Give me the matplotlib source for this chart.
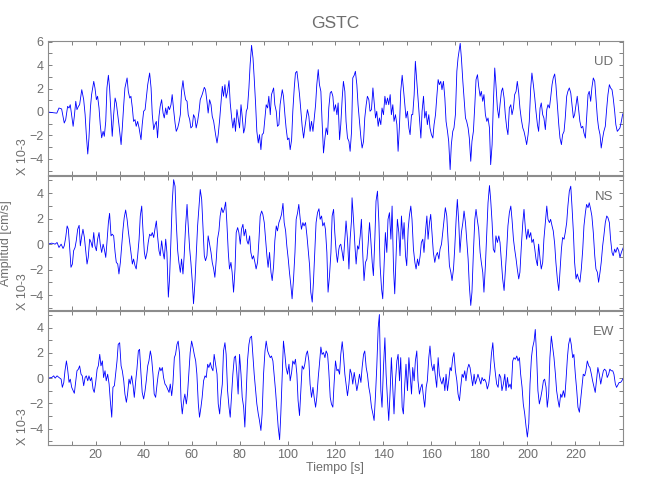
import numpy as np
import matplotlib
matplotlib.use('Agg')
import matplotlib.pyplot as plt

# registro GSTC, velocidad en cm/s (x 10^-3), lecturas (tiempo [s], amplitud)
ud_pts = [
    (0, 0), (3.8, -0.1), (4.7, 0.34), (5.8, 0.26), (6.9, -0.94), (7.5, -0.65), (8.3, 0.48), (8.9, 0.34),
    (9.4, 0.62), (10.6, -1.22), (11.1, -0.37), (11.7, 0.91), (12.2, 0.2), (12.8, 0.48), (13.3, 0.62),
    (14.2, 1.9), (15.0, 1.05), (15.6, -0.23), (16.1, -1.93), (16.7, -3.58), (17.2, -2.2), (17.8, 0.34),
    (18.3, 1.48), (19.2, 2.61), (19.7, 2.05), (20.3, 1.05), (20.8, 1.34), (21.4, 0.34), (21.9, -1.08),
    (22.5, -2.2), (23.1, -1.65), (23.6, -2.07), (24.2, -0.8), (24.7, 2.05), (25.3, 3.13), (25.8, 2.05),
    (26.4, -0.23), (26.9, -2.07), (27.5, -0.23), (28.1, 1.19), (28.6, 0.77), (29.2, -0.23), (29.7, -1.08),
    (30.6, -2.78), (31.1, -1.36), (31.7, 0.62), (32.2, 2.05), (33.1, 2.9), (33.6, 1.76), (34.2, 1.19),
    (34.7, 1.34), (35.3, 0.34), (35.8, -0.8), (36.4, -0.65), (36.9, -1.22), (37.5, -0.8), (38.1, -1.36),
    (38.9, -2.36), (39.4, -1.08), (40.0, 0.06), (40.6, 0.2), (41.1, 1.19), (41.7, 2.33), (42.5, 3.32),
    (43.1, 2.05), (43.6, -0.23), (44.2, -1.5), (44.7, -1.08), (45.3, -0.8), (45.8, -2.2), (46.4, -0.37),
    (46.9, 0.48), (47.5, 1.05), (48.1, -0.09), (48.6, -0.51), (49.2, 0.34), (49.7, -0.23), (50.3, 0.48),
    (50.8, 0.2), (51.4, 0.62), (51.9, 1.48), (52.5, 0.2), (53.1, -0.94), (53.6, -1.65), (54.2, -1.36),
    (54.7, -0.94), (55.3, -0.23), (55.8, 1.76), (56.4, 2.67), (56.9, 1.76), (57.5, 1.05), (58.1, 0.91),
    (58.6, -0.23), (59.2, -0.65), (59.7, -1.36), (60.3, -1.22), (60.8, -0.23), (61.4, -0.51), (61.9, -1.36),
    (62.5, -0.8), (63.1, 0.06), (63.6, 1.05), (64.4, 1.48), (65.3, 2.1), (65.8, 1.9), (66.4, 0.91),
    (66.9, -0.09), (67.5, 1.05), (68.1, 0.62), (68.6, -0.37), (69.2, -0.8), (70.0, -1.93), (70.6, -2.64),
    (71.1, -1.93), (71.7, -0.65), (72.2, 0.62), (72.8, 2.19), (73.3, 1.34), (73.9, 2.33), (74.4, 1.19),
    (75.0, 1.76), (75.6, 2.67), (76.1, 0.77), (76.7, -0.51), (77.2, -1.36), (77.8, -0.51), (78.3, -1.65),
    (78.9, 0.2), (79.4, -0.51), (80.0, -1.36), (80.6, 0.62), (81.1, -0.37), (81.7, -1.79), (82.2, -1.36),
    (82.8, 0.06), (83.3, 0.34), (83.9, 2.05), (84.4, 4.03), (85.0, 5.68), (85.6, 4.6), (86.1, 2.9),
    (86.7, 0.62), (87.2, -1.65), (87.8, -2.64), (88.3, -1.93), (88.9, -3.21), (89.4, -1.93), (90.0, -1.79),
    (90.6, -0.51), (91.1, 0.62), (91.7, 0.34), (92.2, 1.34), (92.8, -0.23), (93.3, 1.48), (94.2, 2.05),
    (94.7, 0.62), (95.3, 0.06), (95.8, -1.22), (96.4, -1.08), (96.9, 0.62), (97.8, 1.9), (98.3, 1.34),
    (98.9, -0.23), (99.4, -1.36), (100.0, -2.36), (100.6, -2.22), (101.1, -3.21), (101.7, -2.36),
    (102.2, 0.06), (102.8, 2.05), (103.3, 3.32), (103.9, 3.47), (104.4, 2.61), (105.0, 1.48), (105.6, 0.06),
    (106.1, -1.22), (106.7, -2.22), (107.2, -1.36), (107.8, -0.51), (108.3, 0.2), (108.9, -0.37),
    (109.4, -1.65), (110.0, -0.8), (110.6, -1.65), (111.1, -0.65), (111.7, 0.62), (112.2, 2.33),
    (112.8, 3.61), (113.3, 2.33), (113.9, 1.76), (114.4, -0.8), (115.0, -3.49), (115.6, -2.22),
    (116.1, -1.36), (116.7, -1.93), (117.2, 0.34), (117.8, 1.62), (118.3, 1.76), (118.9, 1.34),
    (119.4, 0.06), (120.0, 0.62), (120.6, -0.23), (121.1, 0.77), (121.7, -2.36),
    (122.2, -1.08), (122.8, 1.19), (123.3, 2.61), (123.9, 1.76), (124.4, -0.8), (125.0, -2.22),
    (125.6, -2.5), (126.1, -3.35), (126.7, -1.65), (127.2, 2.9), (127.8, 3.13), (128.3, 3.47), (128.9, 2.33),
    (129.4, 0.62), (130.0, -0.8), (130.6, -2.22), (131.1, -3.07), (131.7, -2.5), (132.2, -0.51),
    (132.8, 0.62), (133.3, 1.34), (133.9, 1.05), (134.4, 0.06), (135.0, 0.2), (135.6, 2.05), (136.1, 0.91),
    (136.7, -0.51), (137.2, 0.06), (137.8, -1.22), (138.3, -0.51), (138.9, -1.08), (139.4, 0.34),
    (140.0, -0.23), (140.6, 1.34), (141.1, 0.62), (141.7, 1.19), (142.2, 0.62), (142.8, 1.48),
    (143.3, -0.23), (143.9, 0.62), (144.4, -0.8), (145.0, -0.23), (145.6, -1.08), (146.1, -3.35),
    (146.7, -1.08), (147.2, 1.76), (147.8, 3.13), (148.3, 2.05), (148.9, 0.62), (149.4, -0.51),
    (150.0, 0.06), (150.6, -1.36), (151.1, -1.93), (151.7, -0.23), (152.2, -0.23), (152.8, 1.48),
    (153.3, 4.32), (153.9, 2.61), (154.4, 1.19), (155.0, -0.51), (155.6, -2.22), (156.1, 0.06),
    (156.7, 1.34), (157.2, -0.51), (157.8, 0.06), (158.3, -1.08), (158.9, -0.23), (159.4, -1.36),
    (160.0, -1.93), (160.6, -2.22), (161.1, -1.08), (161.7, -0.23), (162.2, 1.19), (162.8, 2.76),
    (163.3, 2.33), (163.9, 2.61), (164.4, 1.9), (165.0, 2.61), (165.6, 1.19), (166.1, -0.8), (166.7, -1.65),
    (167.2, -2.5), (167.8, -4.91), (168.3, -2.78), (168.9, -1.65), (169.4, -1.36), (170.0, -0.23),
    (170.6, 3.47), (171.1, 4.6), (171.7, 5.45), (172.0, 5.85), (172.5, 4.6), (173.1, 2.61), (173.6, 1.19),
    (174.2, -0.51), (174.7, -0.8), (175.3, -1.36), (175.8, -2.22), (176.4, -4.2), (176.9, -2.5),
    (177.5, -1.65), (178.1, 0.62), (178.6, 2.76), (179.2, 3.18), (179.7, 2.19), (180.3, 1.34),
    (180.8, 1.76), (181.4, 0.91), (181.9, 1.48), (182.5, -0.23), (183.1, -0.8), (183.6, -0.51),
    (184.2, -1.36), (184.7, -4.49), (185.3, -2.78), (185.8, 0.62), (186.4, 3.75), (186.9, 2.33),
    (187.5, 0.34), (188.1, -0.51), (188.6, 0.62), (189.2, 1.76), (189.7, 2.05), (190.3, 1.19),
    (190.8, -0.23), (191.4, -1.36), (191.9, -1.93), (192.5, 0.34), (193.1, 0.62), (193.6, -0.23),
    (194.2, 0.34), (194.7, 1.48), (195.3, 1.76), (195.8, 2.61), (196.4, 1.62), (196.9, 0.34),
    (197.5, -0.65), (198.1, -1.36), (198.6, -1.65), (199.2, -2.22), (199.7, -2.78), (200.3, -1.93),
    (200.8, -0.8), (201.4, 2.05), (201.9, 3.32), (202.5, 2.33), (203.1, 1.19), (203.6, 0.06),
    (204.2, -1.08), (204.7, -1.65), (205.3, 0.34), (205.8, 0.77), (206.4, -0.23), (206.9, -0.51),
    (207.5, -1.5), (208.1, 0.2), (208.6, 0.62), (209.2, 0.34), (209.7, 1.19), (210.3, 2.33), (210.8, 2.9),
    (211.4, 3.24), (211.9, 2.33), (212.5, 0.62), (213.1, -1.08), (213.6, -2.22), (214.2, -2.78),
    (214.7, -1.93), (215.3, -1.65), (215.8, -0.51), (216.4, 1.34), (216.9, 1.76), (217.5, 2.05),
    (218.1, 1.62), (218.6, 0.62), (219.2, -0.51), (219.7, -0.23), (220.3, 0.62), (220.8, 1.34),
    (221.4, 0.2), (221.9, -0.8), (222.5, -1.36), (223.1, -1.22), (223.6, -1.79), (224.2, -2.22),
    (224.7, -0.51), (225.3, 1.48), (225.8, 1.76), (226.4, 0.91), (226.9, 2.05), (227.5, 2.9), (228.1, 2.61),
    (228.6, 1.19), (229.2, -0.51), (229.7, -1.36), (230.3, -1.93), (230.8, -3.07), (231.4, -2.22),
    (231.9, -1.65), (232.5, -1.22), (233.1, 0.34), (233.6, 1.48), (234.2, 2.33), (234.7, 2.05),
    (235.3, 1.9), (235.8, 1.19), (236.4, 0.06), (236.9, -1.08), (237.5, -1.65), (238.1, -1.5),
    (238.6, -1.36), (239.2, -0.8), (239.7, -0.23), (240.0, -0.09),
]

ns_pts = [
    (0, 0), (1.7, 0.08), (3.1, 0), (3.9, 0.13), (4.7, -0.26), (5.6, 0), (6.4, -0.34), (6.9, -0.13),
    (7.5, 0.52), (8.1, 1.43), (8.6, 1.17), (9.2, -0.39), (9.7, -1.82), (10.3, -1.56), (10.8, -0.52),
    (11.4, -0.26), (11.9, 0.26), (12.5, 1.17), (13.1, 1.48), (13.6, -0.13), (14.2, 0.65), (14.7, 1.17),
    (15.3, 0.52), (15.8, -0.39), (16.4, -1.56), (16.9, -1.04), (17.5, 0.39), (18.1, 0.13), (18.6, -0.26),
    (19.2, 0.91), (19.7, -0.13), (20.3, -0.52), (20.8, 0.39), (21.4, 0.91), (21.9, 0), (22.5, -0.65),
    (23.1, 0), (23.6, -0.39), (24.2, -1.04), (24.7, 0.13), (25.3, 1.69), (25.8, 2.42), (26.4, 0.65),
    (26.9, 0.78), (27.5, 0.65), (28.1, -0.65), (28.6, -1.43), (29.2, -1.56), (29.7, -2.34), (30.3, -1.43),
    (30.8, -0.26), (31.4, 1.17), (31.9, 2.08), (32.5, 2.68), (33.1, 1.95), (33.6, 1.04), (34.2, 0.13),
    (34.7, -0.65), (35.3, -1.56), (35.8, -1.17), (36.4, -1.69), (36.9, -1.95), (37.5, -0.91), (38.1, 0.39),
    (38.6, 2.21), (39.2, 2.99), (39.7, 1.17), (40.3, -0.65), (40.8, -1.17), (41.4, -0.65), (41.9, 0.13),
    (42.5, 0.78), (43.1, 0.65), (43.6, 0.91), (44.2, 0.52), (44.7, 1.17), (45.3, 1.82), (45.8, 0.65),
    (46.4, -0.52), (46.9, -0.91), (47.5, 0.26), (48.1, -0.65), (48.6, -1.17), (49.2, 0.39), (49.7, -0.65),
    (50.3, -4.16), (50.8, -2.73), (51.4, 0.39), (51.9, 3.25), (52.5, 5.06), (53.1, 4.55), (53.6, 1.69),
    (54.2, -0.52), (54.7, -1.43), (55.3, -2.21), (55.8, -1.17), (56.4, -2.34), (56.9, -0.91), (57.5, 1.43),
    (58.1, 3.12), (58.6, 1.43), (59.2, -0.39), (59.7, -1.43), (60.3, -2.99), (60.8, -4.68), (61.4, -2.99),
    (61.9, -0.91), (62.5, 1.43), (63.1, 2.99), (63.6, 4.29), (64.2, 3.51), (64.7, 1.43), (65.3, -0.91),
    (65.8, -1.3), (66.4, -0.91), (66.9, 0.65), (67.5, 0), (68.1, -0.65), (68.6, -1.43), (69.2, -1.95),
    (69.7, -2.6), (70.3, -1.17), (70.8, 0.39), (71.4, 1.04), (71.9, 2.21), (72.5, 2.86), (73.1, 2.47),
    (73.6, 2.73), (74.2, 3.3), (74.7, 1.69), (75.3, -0.65), (75.8, -1.95), (76.4, -1.43), (76.9, -2.21),
    (77.5, -3.77), (78.1, -1.95), (78.6, 0.91), (79.2, 1.3), (79.7, 0.91), (80.3, 0), (80.8, 1.17),
    (81.4, 1.56), (81.9, 0.65), (82.5, 1.17), (83.1, 0.26), (83.6, 0), (84.2, 0.65), (84.7, -0.65),
    (85.3, -1.17), (85.8, -0.91), (86.4, -1.43), (86.9, -1.95), (87.5, -1.43), (88.1, 0.39), (88.6, 2.21),
    (89.2, 2.6), (89.7, 2.34), (90.3, 1.69), (90.8, 0.52), (91.4, -0.91), (91.9, -1.82), (92.5, -0.65),
    (93.1, -2.21), (93.6, -2.86), (94.2, -1.69), (94.7, 0.26), (95.3, 1.43), (95.8, 1.04), (96.4, 1.69),
    (96.9, 1.95), (97.5, 2.34), (98.1, 3.2), (98.6, 1.69), (99.2, 1.04), (99.7, -0.13), (100.3, -1.17),
    (100.8, -2.21), (101.4, -3.25), (101.9, -4.29), (102.5, -2.73), (103.1, -0.65), (103.6, 1.95),
    (104.2, 2.47), (104.7, 3.12), (105.3, 1.95), (105.8, 1.17), (106.4, 1.69), (106.9, 1.43), (107.5, 1.69),
    (108.1, 0.65), (108.6, -0.39), (109.2, -1.69), (109.7, -3.77), (110.3, -4.55), (110.8, -2.99),
    (111.4, -0.39), (111.9, 1.69), (112.5, 2.47), (113.1, 2.78), (113.6, 1.95), (114.2, 2.21), (114.7, 1.43),
    (115.3, 1.69), (115.8, 1.17), (116.4, -0.65), (116.9, -3.77), (117.5, -2.47), (118.1, -0.65),
    (118.6, 2.21), (119.2, 2.73), (119.7, 0.91), (120.3, -0.65), (120.8, -1.43), (121.4, -0.39),
    (121.7, -0.13), (122.2, 0), (122.8, -0.65), (123.3, -1.3), (123.9, 0.39), (124.4, 1.82), (125.0, 0.39),
    (125.6, -1.95), (126.1, 0.39), (126.7, 1.95), (126.9, 3.64), (127.5, 1.95), (128.1, -0.13),
    (128.6, -1.56), (129.2, -0.13), (129.7, -0.39), (130.3, 0.65), (130.8, 1.95), (131.4, -0.91),
    (131.9, -2.86), (132.5, -1.43), (133.1, -1.17), (133.6, 0), (134.2, 1.69), (134.7, 0.39), (135.3, -1.43),
    (135.8, -2.47), (136.4, 0.39), (136.9, 3.38), (137.5, 4.16), (138.1, 1.69), (138.6, -1.69),
    (139.2, -3.51), (139.7, -4.29), (140.3, -1.43), (140.8, 0.91), (141.4, -0.65), (141.9, 1.95),
    (142.5, 2.47), (143.1, 0.39), (143.6, 2.99), (144.2, -1.95), (144.7, -3.9), (145.3, -0.65), (145.8, 1.95),
    (146.4, 0.91), (146.9, -0.91), (147.5, 2.21), (148.1, 0.39), (148.6, 1.69), (149.2, -0.91),
    (149.7, -1.69), (150.3, 1.17), (150.8, 2.21), (151.4, 2.99), (151.9, 1.95), (152.5, -0.39),
    (153.1, -1.43), (153.6, -1.95), (154.2, -1.17), (154.7, -1.69), (155.3, -0.91), (155.8, 0.13),
    (156.4, 0.39), (156.9, -0.65), (157.5, 0.91), (158.1, 2.21), (158.6, 0.39), (159.2, 1.69), (159.7, 2.34),
    (160.3, 0.65), (160.8, -0.65), (161.4, -1.43), (161.9, -0.91), (162.5, -0.65), (163.1, -1.17),
    (163.6, -0.39), (164.2, 0), (164.7, 0.91), (165.3, 1.95), (165.8, 2.86), (166.4, 2.21), (166.9, 0.39),
    (167.5, -1.69), (168.1, -2.21), (168.6, -2.86), (169.2, -1.95), (169.7, -0.39), (170.3, 1.95),
    (170.8, 3.51), (171.4, 1.69), (171.9, -0.65), (172.5, 0.91), (173.1, 1.69), (173.6, 2.6), (174.2, 1.69),
    (174.7, 0.39), (175.3, -1.17), (175.8, -3.25), (176.4, -4.81), (176.9, -3.77), (177.5, -0.65),
    (178.1, 1.95), (178.6, 2.73), (179.2, 1.82), (179.7, 1.17), (180.3, -0.65), (180.8, -1.43),
    (181.4, -2.21), (181.9, -3.77), (182.5, -1.69), (183.1, 0.91), (183.6, 3.25), (184.2, 4.6), (184.7, 3.51),
    (185.3, 1.69), (185.8, -0.39), (186.4, -0.65), (186.9, 0.65), (187.5, 0.13), (188.1, 0.65), (188.6, 0.13),
    (189.2, -1.43), (189.7, -2.73), (190.3, -3.64), (190.8, -2.21), (191.4, -0.39), (191.9, 1.43),
    (192.5, 2.47), (193.1, 2.99), (193.6, 1.95), (194.2, 0.39), (194.7, -0.39), (195.3, -1.17),
    (195.8, -1.95), (196.4, -2.73), (196.9, -2.21), (197.5, -0.13), (198.1, 1.69), (198.6, 2.73),
    (199.2, 1.17), (199.7, 0.39), (200.3, 1.17), (200.8, 0.52), (201.4, 0.91), (201.9, 0.13), (202.5, 0.39),
    (203.1, -0.39), (203.6, -1.17), (204.2, -1.69), (204.7, 0), (205.3, -1.17), (205.8, -1.95),
    (206.4, -1.43), (206.9, 0.39), (207.5, 1.69), (208.1, 2.99), (208.6, 1.95), (209.2, 1.69), (209.7, 1.95),
    (210.3, 1.43), (210.8, 1.04), (211.4, 0), (211.9, -1.43), (212.5, -2.73), (213.1, -3.64), (213.6, -2.21),
    (214.2, -0.39), (214.7, 0.52), (215.3, 0.39), (215.8, 0.91), (216.4, 1.69), (216.9, 2.99), (217.5, 4.16),
    (218.1, 4.55), (218.6, 2.99), (219.2, 0.91), (219.7, -1.43), (220.3, -2.73), (220.8, -2.34),
    (221.4, -2.73), (221.9, -2.99), (222.5, -1.95), (223.1, -0.39), (223.6, 1.43), (224.2, 2.47),
    (224.7, 3.12), (225.3, 2.86), (225.8, 3.25), (226.4, 2.73), (226.9, 2.21), (227.5, 0.91), (228.1, -0.91),
    (228.6, -1.95), (229.2, -2.21), (229.7, -2.99), (230.3, -2.21), (230.8, -1.43), (231.4, -0.13),
    (231.9, 0.65), (232.5, 1.69), (233.1, 2.21), (233.6, 2.08), (234.2, 1.69), (234.7, 0.39), (235.3, -0.65),
    (235.8, -0.91), (236.4, -0.39), (236.9, -0.65), (237.5, -0.26), (238.1, -0.52), (238.6, -1.04),
    (239.2, -0.65), (240.0, -0.26),
]

ew_pts = [
    (0, 0), (1.7, 0.05), (2.5, 0.18), (3.1, 0), (3.9, 0.18), (4.7, 0.05), (5.6, -0.08), (6.1, -0.73),
    (6.7, -0.34), (7.2, 0.58), (7.8, 1.36), (8.3, 0.71), (8.9, -0.34), (9.4, -0.08), (10.0, -0.73),
    (10.6, -0.99), (11.1, -1.2), (11.7, -0.21), (12.2, 0.58), (12.8, 0.71), (13.3, 0.97), (13.9, 0.31),
    (14.4, 0.18), (15.0, -0.6), (15.6, 0.05), (16.1, 0.18), (16.7, -0.21), (17.2, 0.18), (17.8, -0.21),
    (18.3, 0.05), (18.9, -0.86), (19.4, -1.13), (20.0, -0.34), (20.6, 0.71), (21.1, 0.97), (21.7, 1.88),
    (22.2, 0.97), (22.8, 1.36), (23.3, 0.05), (23.9, 0.58), (24.4, -0.21), (25.0, 0.31), (25.6, -0.47),
    (26.1, -1.78), (26.7, -3.09), (27.2, -0.73), (27.8, -0.6), (28.3, 0.31), (28.9, 1.36), (29.4, 2.67),
    (30.0, 2.8), (30.6, 0.97), (31.1, 0.58), (31.7, -0.21), (32.2, -1.26), (32.8, -1.91), (33.3, -1.26),
    (33.9, -0.08), (34.4, -0.47), (35.0, 0.18), (35.6, -0.6), (36.1, -1.52), (36.7, -0.21), (37.2, 0.71),
    (37.8, 2.15), (38.3, 2.28), (38.9, 0.31), (39.4, -1.13), (40.0, -1.65), (40.6, -0.99), (41.1, -0.21),
    (41.7, 0.97), (42.2, 1.36), (42.8, 2.15), (43.3, 1.62), (43.9, 0.31), (44.4, -1.26), (45.0, -1.52),
    (45.6, -0.47), (46.1, 0.31), (46.7, 0.84), (47.2, 0.58), (47.8, 0.84), (48.3, 0.05), (48.9, -0.47),
    (49.4, -0.6), (50.0, -0.86), (50.6, -1.13), (51.1, -0.47), (51.7, -1.39), (52.2, -0.47), (52.8, 1.62),
    (53.3, 1.88), (53.9, 2.67), (54.4, 2.93), (55.0, 1.88), (55.6, -1.78), (56.1, -2.83), (56.7, -1.78),
    (57.2, -1.26), (57.8, -2.04), (58.3, -1.26), (58.9, 0.58), (59.4, 2.02), (60.0, 2.93), (60.6, 2.41),
    (61.1, 1.88), (61.7, 1.36), (62.2, 0.31), (62.8, -2.04), (63.3, -3.09), (63.9, -2.3), (64.4, -1.52),
    (65.0, -0.21), (65.6, 0.18), (66.1, 0.05), (66.7, 1.1), (67.2, 0.84), (67.8, 1.23), (68.3, 0.84),
    (68.9, 0.58), (69.4, 1.88), (70.0, 1.1), (70.6, 0.31), (71.1, -2.04), (71.7, -2.83), (72.2, -1.52),
    (72.8, -0.47), (73.3, 2.15), (73.9, 2.8), (74.4, 1.88), (75.0, -0.99), (75.6, -2.3), (76.1, -3.09),
    (76.7, -1.26), (77.2, 0.31), (77.8, 1.62), (78.3, 1.75), (78.9, 0.31), (79.4, -1.26), (80.0, 1.88),
    (80.6, 0.31), (81.1, -1.52), (81.7, -2.3), (82.2, -3.87), (82.8, -0.99), (83.3, 1.36), (83.9, 2.67),
    (84.4, 3.19), (85.0, 3.32), (85.6, 1.62), (86.1, 0.31), (86.7, -0.99), (87.2, -2.04), (87.8, -2.83),
    (88.3, -3.35), (88.9, -4.14), (89.4, -2.83), (90.0, 0.31), (90.6, 2.15), (91.1, 2.93), (91.7, 2.15),
    (92.2, 1.88), (92.8, 1.62), (93.3, 1.75), (93.9, 1.36), (94.4, 0.31), (95.0, -0.99), (95.6, -2.57),
    (96.1, -3.87), (96.7, -4.87), (97.2, -2.83), (97.8, 0.31), (98.3, 2.93), (98.9, 1.88), (99.4, 0.84),
    (100.0, 0.31), (100.6, 1.1), (101.1, -0.21), (101.7, 0.45), (102.2, 1.36), (102.8, 1.1), (103.3, 1.49),
    (103.9, 0.31), (104.4, -1.78), (105.0, -2.96), (105.6, -0.73), (106.1, 0.97), (106.7, 0.71), (107.2, 1.1),
    (107.8, 1.88), (108.3, 2.15), (108.9, 1.36), (109.4, -0.47), (110.0, -1.52), (110.6, -0.73),
    (111.1, -1.52), (111.7, -2.3), (112.2, -1.52), (112.8, 0.05), (113.3, 1.1), (113.9, 2.46), (114.4, 1.88),
    (115.0, 2.02), (115.6, 1.62), (116.1, 2.15), (116.7, 1.88), (117.2, 0.58), (117.8, -1.52), (118.3, -2.04),
    (118.9, -2.3), (119.4, -0.47), (120.0, 1.36), (120.6, 0.58), (121.1, 0.71), (121.7, 0.31),
    (122.2, 1.88), (122.8, 2.88), (123.3, 1.88), (123.9, 0.31), (124.4, -0.47), (125.0, -1.39),
    (125.6, -0.47), (126.1, 0.71), (126.7, 0.31), (127.2, -0.47), (127.8, 0.45), (128.3, -0.21),
    (128.9, -0.99), (129.4, -0.47), (130.0, 0.31), (130.6, -0.34), (131.1, 0.84), (131.7, 1.88),
    (132.2, 2.15), (132.8, 0.84), (133.3, 0.31), (133.9, -0.73), (134.4, -1.26), (135.0, -2.3),
    (135.6, -2.83), (136.1, -3.35), (136.7, -1.26), (137.2, 0.84), (137.8, 3.98), (138.3, 5.03),
    (138.6, 2.15), (138.9, -0.99), (139.4, -2.3), (140.0, 0.84), (140.6, 3.19), (141.1, 0.31),
    (141.7, -1.78), (142.2, -3.35), (142.8, -0.99), (143.3, 1.62), (143.9, -0.73), (144.4, -2.83),
    (145.0, -0.21), (145.6, 1.36), (146.1, 1.88), (146.7, -0.21), (147.2, 1.62), (147.8, -2.3),
    (148.3, -2.83), (148.9, -0.47), (149.4, 1.1), (150.0, -0.99), (150.6, 1.62), (151.1, 0.31),
    (151.7, -1.26), (152.2, 0.84), (152.8, -0.21), (153.3, 1.36), (153.9, 2.15), (154.4, -0.21),
    (155.0, -1.26), (155.6, -0.73), (156.1, -0.47), (156.7, -1.52), (157.2, -2.3), (157.8, -0.73),
    (158.3, -0.21), (158.9, 1.62), (159.4, 2.54), (160.0, 1.1), (160.6, 0.58), (161.1, 1.1), (161.7, 0.05),
    (162.2, -0.73), (162.8, 1.62), (163.3, 0.31), (163.9, -0.21), (164.4, -0.47), (165.0, 0.05),
    (165.6, -0.99), (166.1, 0.31), (166.7, -0.99), (167.2, -0.21), (167.8, 0.84), (168.3, 0.58),
    (168.9, 1.62), (169.4, 2.02), (170.0, 0.58), (170.6, -0.21), (171.1, -1.26), (171.7, -1.78),
    (172.2, -0.73), (172.8, 0.31), (173.3, 0.05), (173.9, 0.58), (174.4, -0.21), (175.0, 0.71), (175.6, 1.1),
    (176.1, 0.84), (176.7, 0.05), (177.2, -0.6), (177.8, 0.31), (178.3, -0.47), (178.9, -0.08), (179.4, 0.31),
    (180.0, -0.08), (180.6, -0.47), (181.1, 0.05), (181.7, -0.21), (182.2, -0.08), (182.8, -0.34),
    (183.3, -0.86), (183.9, -0.47), (184.4, 0.31), (185.0, 1.88), (185.6, 2.8), (186.1, 1.36), (186.7, 0.31),
    (187.2, -0.47), (187.8, -0.73), (188.3, 0.31), (188.9, 0.05), (189.4, -0.99), (190.0, -0.47),
    (190.6, 0.31), (191.1, -0.99), (191.7, 0.05), (192.2, -0.73), (192.8, -0.47), (193.3, -0.86),
    (193.9, 1.36), (194.4, 1.62), (195.0, 1.49), (195.6, 1.75), (196.1, 1.36), (196.7, 1.62), (197.2, 0.31),
    (197.8, -0.73), (198.3, -2.04), (198.9, -2.83), (199.4, -3.74), (200.0, -4.66), (200.6, -3.61),
    (201.1, -0.47), (201.7, 1.62), (202.2, 2.41), (202.8, 2.93), (203.3, 3.85), (203.9, 1.62), (204.4, -0.99),
    (205.0, -2.04), (205.6, -1.52), (206.1, -0.99), (206.7, -0.21), (207.2, -0.08), (207.8, -0.73),
    (208.3, -2.3), (208.9, -1.26), (209.4, 1.62), (210.0, 3.32), (210.6, 2.41), (211.1, 1.62), (211.7, 0.31),
    (212.2, -0.99), (212.8, -1.78), (213.3, -2.3), (213.9, -1.26), (214.4, -1.52), (215.0, -0.99),
    (215.6, -1.52), (216.1, -0.21), (216.7, 1.62), (217.2, 2.67), (217.8, 3.19), (218.3, 2.67), (218.9, 1.62),
    (219.4, 1.88), (220.0, 0.31), (220.6, -0.99), (221.1, -2.3), (221.7, -2.7), (222.2, -1.78), (222.8, -0.73),
    (223.3, 0.31), (223.9, 0.18), (224.4, 0.58), (225.0, 1.36), (225.6, 0.97), (226.1, 0.84), (226.7, 0.31),
    (227.2, -0.21), (227.8, -0.73), (228.3, -1.13), (228.9, -0.08), (229.4, 0.84), (230.0, 0.31),
    (230.6, -0.47), (231.1, 0.05), (231.7, 0.58), (232.2, 0.71), (232.8, 0.58), (233.3, 0.05), (233.9, 0.31),
    (234.4, 0.71), (235.0, 0.58), (235.6, 0.58), (236.1, 0.31), (236.7, -0.47), (237.2, -0.73),
    (237.8, -0.52), (238.3, -0.34), (238.9, -0.34), (239.4, -0.21), (240.0, 0),
]

componentes = ['UD', 'NS', 'EW']
trazas = [ud_pts, ns_pts, ew_pts]
limites = [(-5.37, 6.05), (-5.17, 5.35), (-5.29, 5.31)]
ticks_y = [[-4, -2, 0, 2, 4, 6], [-4, -2, 0, 2, 4], [-4, -2, 0, 2, 4]]
ticks_x = list(range(10, 240, 10))

gris = '#6e6e6e'
plt.rcParams['font.family'] = ['Liberation Sans', 'DejaVu Sans']

fig = plt.figure(figsize=(6.5, 5), dpi=100)

# posiciones de los 3 paneles (en fraccion de figura)
left, width = 0.0734, 0.8855
bottoms = [0.650, 0.380, 0.110]
height = 0.268

for i in range(3):
    ax = fig.add_axes([left, bottoms[i], width, height])
    t, a = zip(*trazas[i])
    ax.plot(t, a, color='#0000ff', lw=0.6)
    ax.set_xlim(0, 240)
    ax.set_ylim(*limites[i])

    ax.set_yticks(ticks_y[i])
    ax.set_yticks([-5, -3, -1, 1, 3, 5], minor=True)
    ax.set_xticks(ticks_x)
    if i == 2:
        ax.set_xticklabels([str(v) if v % 20 == 0 else '' for v in ticks_x])
    else:
        ax.set_xticklabels([])

    ax.tick_params(which='both', direction='in', length=3, width=0.7,
                   top=True, right=True, color='#808080', labelcolor=gris,
                   labelsize=9, pad=3)
    for s in ax.spines.values():
        s.set_color('#8c8c8c')
        s.set_linewidth(0.8)

    ax.text(0.966, 0.845, componentes[i], transform=ax.transAxes,
            ha='center', va='center', fontsize=9.5, color=gris)
    ax.text(-0.043, 0.0, 'X 10-3', transform=ax.transAxes, rotation=90,
            ha='center', va='bottom', fontsize=9, color=gris)
    if i == 1:
        ax.text(-0.072, 0.5, 'Amplitud [cm/s]', transform=ax.transAxes,
                rotation=90, ha='center', va='center', fontsize=9, color=gris)

fig.text(0.516, 0.954, 'GSTC', ha='center', va='center', fontsize=12.5, color=gris)
fig.text(0.516, 0.064, 'Tiempo [s]', ha='center', va='center', fontsize=9, color=gris)

fig.savefig('out.png', dpi=100)
